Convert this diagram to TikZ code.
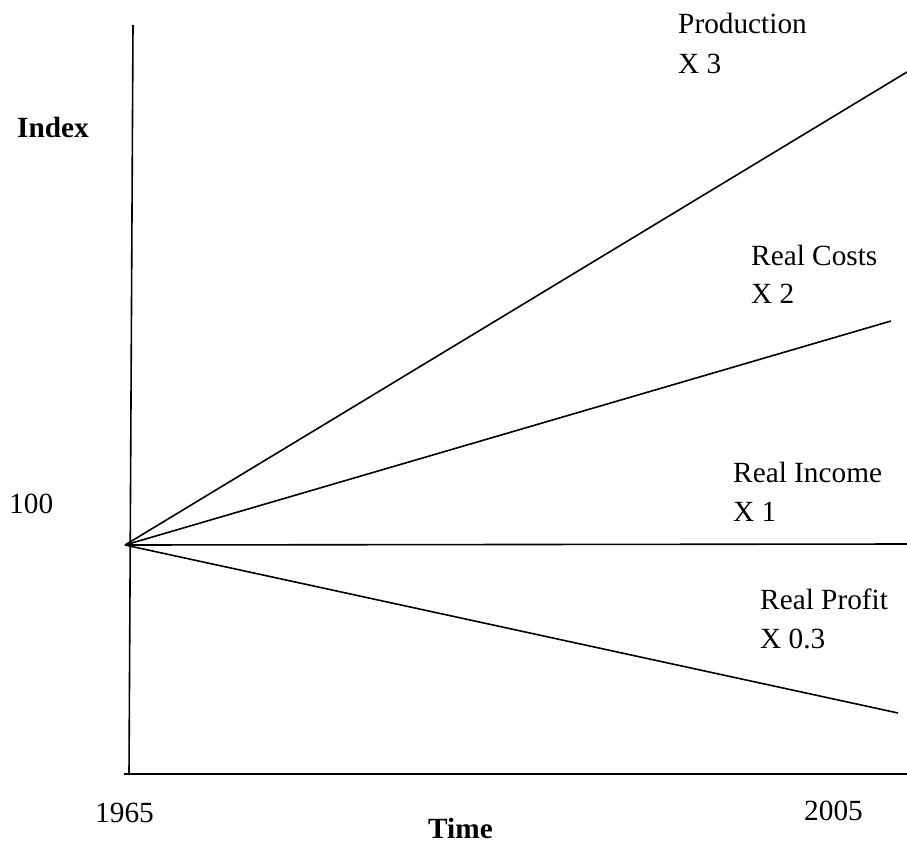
\documentclass[tikz,border=0pt]{standalone}
\usepackage{fontspec}
\setmainfont{Liberation Serif}
\begin{document}
\begin{tikzpicture}[x=1pt,y=-1pt,
  axis/.style={line width=1.6pt,black},
  trend/.style={line width=1.6pt,black},
  lbl/.style={anchor=base west,inner sep=0pt,font=\fontsize{29.3}{32}\selectfont},
  blbl/.style={lbl,font=\fontsize{29.3}{32}\selectfont\bfseries}]
\useasboundingbox (0,0) rectangle (907,849);
% axes
\coordinate (ytop) at (133,25);
\coordinate (ybot) at (129,775);
\coordinate (xleft) at (124,774);
\coordinate (xright) at (907,774);
\draw[axis] (ytop) -- (ybot);
\draw[axis] (xleft) -- (xright);
% common starting point (index 100 in 1965)
\coordinate (o) at (125,545);
\coordinate (prod) at (907,72);
\coordinate (cost) at (891,321);
\coordinate (inc) at (907,544);
\coordinate (prof) at (898,713);
\draw[trend] (o) -- (prod);
\draw[trend] (o) -- (cost);
\draw[trend] (o) -- (inc);
\draw[trend] (o) -- (prof);
% labels
\node[blbl] (index) at (17,137) {Index};
\node[lbl] (hundred) at (9,513) {100};
\node[lbl] (y1965) at (95,822) {1965};
\node[lbl] (y2005) at (804,820) {2005};
\node[blbl] (time) at (428,838) {Time};
\node[lbl] (lprod) at (678,33) {Production};
\node[lbl] (fprod) at (678,73) {X 3};
\node[lbl] (lcost) at (751,265) {Real Costs};
\node[lbl] (fcost) at (751,303) {X 2};
\node[lbl] (linc) at (733,482) {Real Income};
\node[lbl] (finc) at (733,521) {X 1};
\node[lbl] (lprof) at (760,609) {Real Profit};
\node[lbl] (fprof) at (760,648) {X 0.3};
\end{tikzpicture}
\end{document}
